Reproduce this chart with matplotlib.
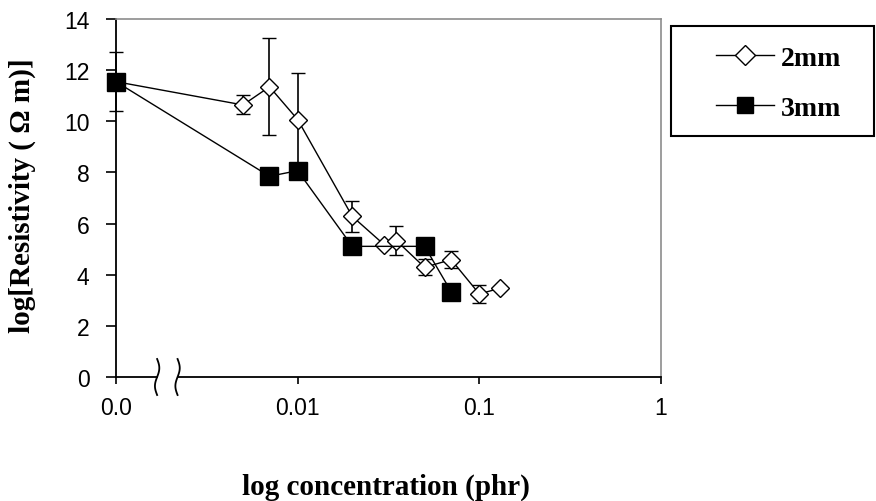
import numpy as np
import matplotlib
matplotlib.use("Agg")
import matplotlib.pyplot as plt
from matplotlib.patches import Rectangle
from matplotlib.lines import Line2D

# ---- data -------------------------------------------------------------
conc_2mm = [0.0, 0.005, 0.007, 0.01, 0.02, 0.03, 0.035, 0.05, 0.07, 0.1, 0.13]
res_2mm = [11.55, 10.64, 11.35, 10.07, 6.28, 5.17, 5.33, 4.29, 4.59, 3.25, 3.47]
err_2mm = [1.15, 0.37, 1.9, 1.83, 0.6, 0.0, 0.56, 0.32, 0.33, 0.34, 0.0]

conc_3mm = [0.0, 0.007, 0.01, 0.02, 0.05, 0.07]
res_3mm = [11.55, 7.85, 8.07, 5.11, 5.11, 3.34]

x_tick_pos = [0.001, 0.01, 0.1, 1]
x_tick_labels = ["0.0", "0.01", "0.1", "1"]
y_ticks = [0, 2, 4, 6, 8, 10, 12, 14]

# zero concentration sits at the origin of the broken log axis
ORIGIN = 0.001


def place(c):
    c = np.asarray(c, dtype=float)
    return np.where(c == 0, ORIGIN, c)


SERIF = ["Liberation Serif", "DejaVu Serif"]
SANS = ["Liberation Sans", "DejaVu Sans"]

fig = plt.figure(figsize=(8.76, 5.02), dpi=100)
ax = fig.add_axes([0.1324, 0.2470, 0.6221, 0.7131])

ax.errorbar(place(conc_2mm), res_2mm, yerr=err_2mm, color="black", lw=1.0,
            marker="D", ms=9, mfc="white", mec="black", mew=1.0,
            ecolor="black", elinewidth=1.2, capsize=5, capthick=1.2,
            zorder=3, clip_on=False)
ax.plot(place(conc_3mm), res_3mm, color="black", lw=1.0, marker="s",
        ms=13, mfc="black", mec="black", zorder=4, clip_on=False)

ax.set_xscale("log")
ax.set_xlim(0.001, 1)
ax.set_ylim(0, 14)
ax.set_xticks(x_tick_pos)
ax.set_xticklabels(x_tick_labels)
ax.xaxis.set_minor_locator(matplotlib.ticker.NullLocator())
ax.set_yticks(y_ticks)
ax.tick_params(axis="y", direction="out", length=7, width=1.2, pad=12,
               labelsize=16.5, color="black")
ax.tick_params(axis="x", direction="out", length=5, width=1.2, pad=9,
               labelsize=16.5, color="black")
for lab in ax.get_xticklabels() + ax.get_yticklabels():
    lab.set_family(SANS)

for side in ("top", "right"):
    ax.spines[side].set_color("#8c8c8c")
    ax.spines[side].set_linewidth(1.2)
ax.spines["left"].set_color("black")
ax.spines["left"].set_linewidth(1.3)
ax.spines["bottom"].set_visible(False)

# bottom axis line with a break between the origin and the first decade
b0, b1 = 0.0755, 0.1130
ax.plot([0, b0], [0, 0], transform=ax.transAxes, color="black", lw=1.3,
        clip_on=False, zorder=5)
ax.plot([b1, 1], [0, 0], transform=ax.transAxes, color="black", lw=1.3,
        clip_on=False, zorder=5)
t = np.linspace(0, 1, 60)
h = 18 / 358.0
for bx in (b0, b1):
    xs = bx + 0.004 * np.sin(2 * np.pi * t)
    ys = h - 2 * h * t
    ax.plot(xs, ys, transform=ax.transAxes, color="black", lw=1.3,
            clip_on=False, zorder=5)

# axis titles
fig.text(0.4406, 0.0299, "log concentration (phr)", ha="center",
         va="center", fontsize=21, fontweight="bold", family=SERIF)
fig.text(0.0251, 0.6096, "log[Resistivity ( \u03a9 m)]", ha="center",
         va="center", rotation=90, fontsize=21, fontweight="bold",
         family=SERIF)

# legend with a square black frame
fig.patches.append(Rectangle((671 / 876, 1 - 137 / 502), 203 / 876,
                             110 / 502, transform=fig.transFigure,
                             fill=False, edgecolor="black", lw=1.5))
handles = [
    Line2D([], [], color="black", lw=1.0, marker="D", ms=10, mfc="white",
           mec="black"),
    Line2D([], [], color="black", lw=1.0, marker="s", ms=12, mfc="black",
           mec="black"),
]
fig.legend(handles, ["2mm", "3mm"], loc="center left",
           bbox_to_anchor=(716 / 876, 1 - 84 / 502), frameon=False,
           handlelength=2.1, handletextpad=0.25, labelspacing=0.9,
           prop={"family": SERIF, "weight": "bold", "size": 20},
           borderaxespad=0, borderpad=0)

fig.savefig("out.png", dpi=100)
